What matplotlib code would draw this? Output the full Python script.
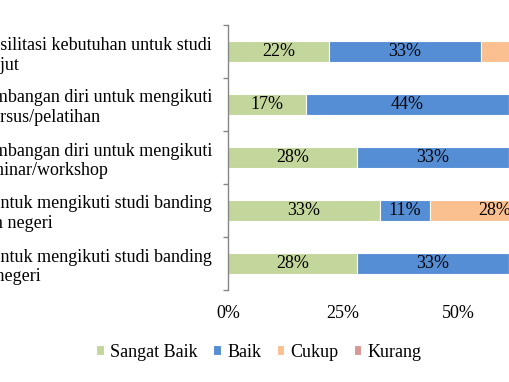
import numpy as np
from matplotlib import pyplot as plt

plt.rcParams['font.family'] = ['Liberation Serif', 'DejaVu Serif']

FS = 13

categories = [
    "Perguruan tinggi telah memfasilitasi kebutuhan untuk studi\nlanjut",
    "Dukungan pengembangan diri untuk mengikuti\nkursus/pelatihan",
    "Dukungan pengembangan diri untuk mengikuti\nseminar/workshop",
    "Penyediaan bantuan biaya untuk mengikuti studi banding\ndalam negeri",
    "Pemberian tambahan biaya untuk mengikuti studi banding\nluar negeri",
]
levels = ["Sangat Baik", "Baik", "Cukup", "Kurang"]
sangat_baik = [22, 17, 28, 33, 28]
baik = [33, 44, 33, 11, 33]
cukup = [39, 39, 33, 28, 39]
kurang = [6, 0, 6, 28, 0]
colors = ['#C3D69B', '#558ED5', '#FAC090', '#D99694']

x_ticks = [0, 25, 50, 75, 100]
x_tick_labels = ["0%", "25%", "50%", "75%", "100%"]


def main():
    fig = plt.figure(figsize=(5.1, 3.82), dpi=100)
    ax = fig.add_axes([228 / 510, 1 - 290 / 382, 460 / 510, 265 / 382])

    y = np.arange(len(categories))
    left = np.zeros(len(categories))
    for name, vals, color in zip(levels, [sangat_baik, baik, cukup, kurang],
                                 colors):
        vals = np.array(vals)
        bars = ax.barh(y, vals, left=left, height=0.4, color=color,
                       edgecolor='white', linewidth=0.8, label=name)
        ax.bar_label(bars, labels=[f"{v}%" if v > 0 else "" for v in vals],
                     label_type='center', fontsize=FS, color='black')
        left += vals

    ax.set_xlim(0, 100)
    ax.set_ylim(len(categories) - 0.5, -0.5)
    ax.set_xticks(x_ticks)
    ax.set_xticklabels(x_tick_labels, fontsize=FS)
    ax.set_yticks(y)
    ax.set_yticklabels(categories, fontsize=FS, multialignment='center',
                       linespacing=1.2)
    ax.set_yticks(np.arange(-0.5, len(categories), 1), minor=True)
    ax.tick_params(axis='y', which='major', length=0, pad=11.5)
    ax.tick_params(axis='y', which='minor', length=3.6, width=1,
                   color='#868686')
    ax.tick_params(axis='x', length=0, pad=11)

    for s in ['top', 'right', 'bottom']:
        ax.spines[s].set_visible(False)
    ax.spines['left'].set_color('#868686')
    ax.spines['left'].set_linewidth(1)

    fig.legend(loc='center', bbox_to_anchor=(0.508, 0.0785), ncol=4,
               frameon=False, handlelength=0.42, handleheight=0.42,
               handletextpad=0.35, columnspacing=0.85, fontsize=FS)

    fig.savefig('out.png', dpi=100)
    plt.close()


if __name__ == "__main__":
    main()
